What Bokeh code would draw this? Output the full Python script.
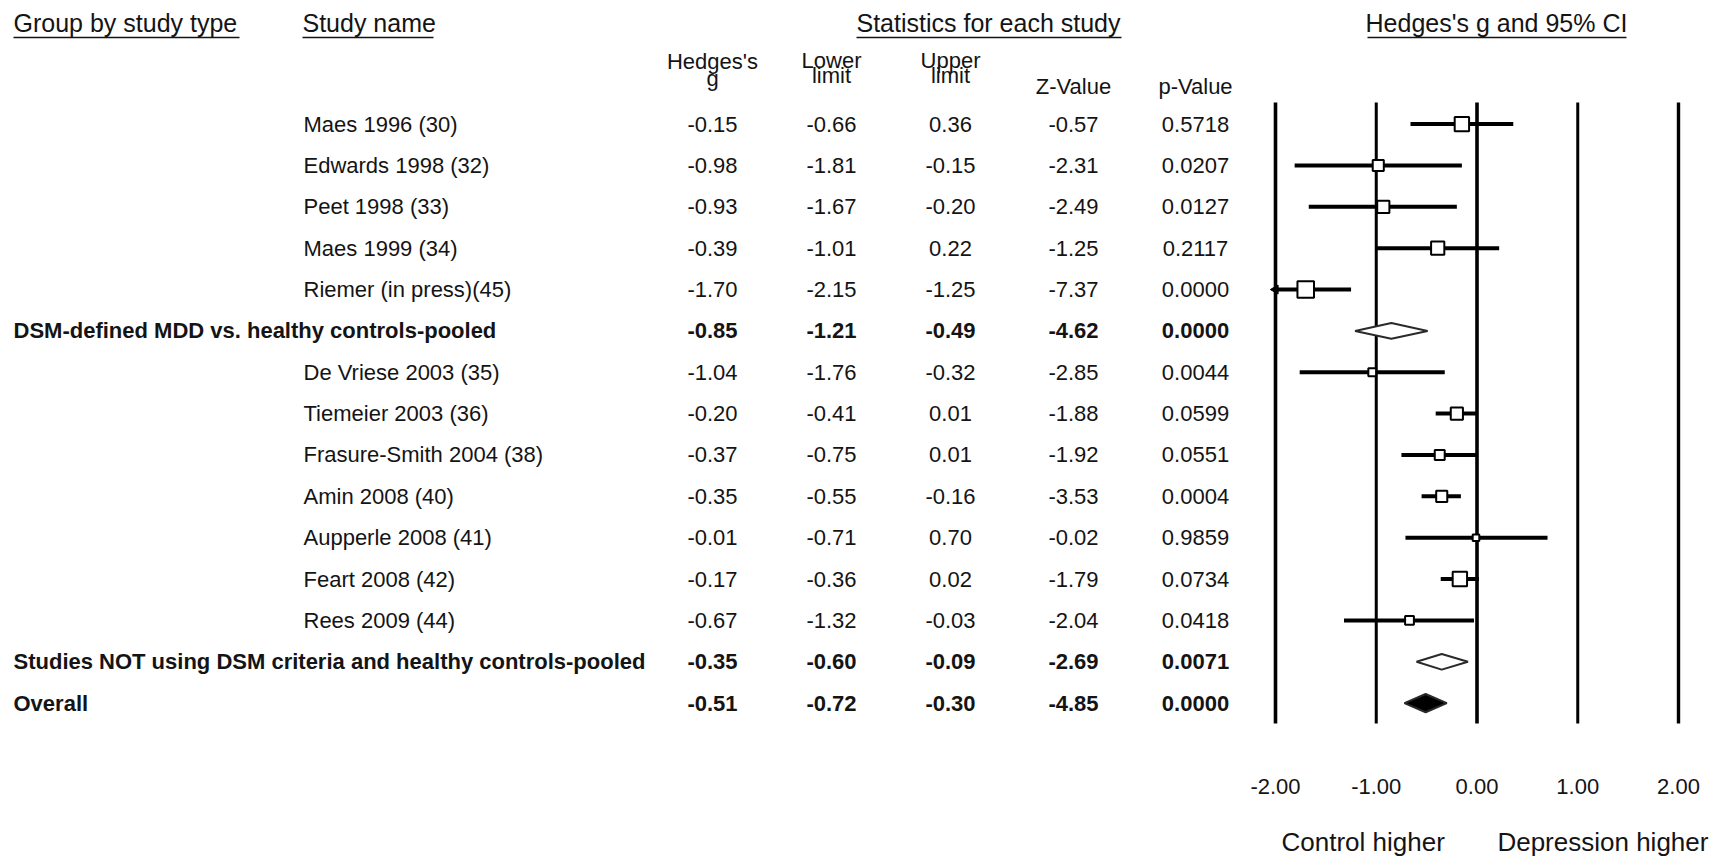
import math

from bokeh.core.properties import value
from bokeh.embed import file_html
from bokeh.models import (ColumnDataSource, CustomJSTickFormatter, FixedTicker,
                          LinearAxis, NumeralTickFormatter, Range1d)
from bokeh.plotting import figure
from bokeh.resources import INLINE

# ---------------------------------------------------------------- data
row_labels = [
    "Maes 1996 (30)",
    "Edwards 1998 (32)",
    "Peet 1998 (33)",
    "Maes 1999 (34)",
    "Riemer (in press)(45)",
    "DSM-defined MDD vs. healthy controls-pooled",
    "De Vriese 2003 (35)",
    "Tiemeier 2003 (36)",
    "Frasure-Smith 2004 (38)",
    "Amin 2008 (40)",
    "Aupperle 2008 (41)",
    "Feart 2008 (42)",
    "Rees 2009 (44)",
    "Studies NOT using DSM criteria and healthy controls-pooled",
    "Overall",
]
row_kind = ["study"] * 5 + ["pooled"] + ["study"] * 7 + ["pooled", "overall"]

hedges_g = [-0.15, -0.98, -0.93, -0.39, -1.70, -0.85,
            -1.04, -0.20, -0.37, -0.35, -0.01, -0.17, -0.67, -0.35, -0.51]
lower_limit = [-0.66, -1.81, -1.67, -1.01, -2.15, -1.21,
               -1.76, -0.41, -0.75, -0.55, -0.71, -0.36, -1.32, -0.60, -0.72]
upper_limit = [0.36, -0.15, -0.20, 0.22, -1.25, -0.49,
               -0.32, 0.01, 0.01, -0.16, 0.70, 0.02, -0.03, -0.09, -0.30]
z_value = [-0.57, -2.31, -2.49, -1.25, -7.37, -4.62,
           -2.85, -1.88, -1.92, -3.53, -0.02, -1.79, -2.04, -2.69, -4.85]
p_value = [0.5718, 0.0207, 0.0127, 0.2117, 0.0000, 0.0000,
           0.0044, 0.0599, 0.0551, 0.0004, 0.9859, 0.0734, 0.0418, 0.0071, 0.0000]

# relative study weights (%), one per individual study row
study_weight = [12.3, 7.3, 8.8, 10.4, 16.3,
                3.6, 8.8, 5.9, 7.3, 2.6, 12.3, 4.6]

effect_ticks = [-2, -1, 0, 1, 2]
side_labels = ["Control higher", "Depression higher"]

# ---------------------------------------------------------------- layout
W, H = 1730, 865
FRAME_BOTTOM = 740          # pixel row where the plotting frame ends
ROW0, ROW_H = 123.6, 41.36  # first table row and row pitch, in pixels
X_LEFT, X_RIGHT = 1275, 1678  # pixel positions of -2 and +2 on the effect axis
K = (X_RIGHT - X_LEFT) / (effect_ticks[-1] - effect_ticks[0])

FONT = "Liberation Sans"
INK = "#141414"


def yrow(py):
    """Convert a pixel row (from the top) to the row-index data space."""
    return (py - ROW0) / ROW_H


p = figure(
    width=W, height=H,
    x_range=Range1d(0, W),
    y_range=Range1d(yrow(FRAME_BOTTOM), yrow(0)),
    x_axis_type=None, y_axis_type=None,
    toolbar_location=None, output_backend="svg",
    min_border_left=0, min_border_right=0,
    min_border_top=0, min_border_bottom=H - FRAME_BOTTOM,
)
p.outline_line_color = None
p.background_fill_color = "white"
p.border_fill_color = "white"
p.extra_x_ranges = {
    "effect": Range1d(effect_ticks[0] - X_LEFT / K,
                      effect_ticks[-1] + (W - X_RIGHT) / K)
}

rows = list(range(len(row_labels)))
bold_rows = [i for i, k in enumerate(row_kind) if k != "study"]
study_rows = [i for i, k in enumerate(row_kind) if k == "study"]


# ---------------------------------------------------------------- headers
def header(text, x, py, align="left", size="25px"):
    p.text(x=[x], y=[yrow(py)], text=[text], text_align=align,
           text_baseline="middle", text_font=value(FONT),
           text_font_size=size, text_color=INK)


header("Group by study type", 13, 22)
header("Study name", 302, 22)
header("Statistics for each study", 988, 22, "center")
header("Hedges's g and 95% CI", 1496, 22, "center")

underlines = dict(x0=[13, 302, 856, 1367], x1=[239, 433, 1121, 1626])
p.segment(x0=underlines["x0"], x1=underlines["x1"],
          y0=[yrow(37)] * 4, y1=[yrow(37)] * 4,
          line_color=INK, line_width=1.6)

col_x = [712, 831, 950, 1073, 1195]
col_heads = [("Hedges's", "g"), ("Lower", "limit"), ("Upper", "limit"),
             ("Z-Value",), ("p-Value",)]
for cx, lines in zip(col_x, col_heads):
    if len(lines) == 2:
        first_y, second_y = (61, 78) if lines[1] == "g" else (60, 75)
        header(lines[0], cx, first_y, "center", "22px")
        header(lines[1], cx, second_y, "center", "22px")
    else:
        header(lines[0], cx, 86, "center", "22px")

# ---------------------------------------------------------------- table
weight_style = ["bold" if k != "study" else "normal" for k in row_kind]
label_src = ColumnDataSource(dict(
    x=[13 if k != "study" else 303 for k in row_kind],
    y=rows,
    text=row_labels,
    style=weight_style,
))
p.text(x="x", y="y", text="text", source=label_src, text_align="left",
       text_baseline="middle", text_font=value(FONT), text_font_size="22px",
       text_font_style="style", text_color=INK)

columns = [
    [f"{v:.2f}" for v in hedges_g],
    [f"{v:.2f}" for v in lower_limit],
    [f"{v:.2f}" for v in upper_limit],
    [f"{v:.2f}" for v in z_value],
    [f"{v:.4f}" for v in p_value],
]
for cx, texts in zip(col_x, columns):
    src = ColumnDataSource(dict(
        x=[cx] * len(rows), y=rows, text=texts, style=weight_style,
    ))
    p.text(x="x", y="y", text="text", source=src, text_align="center",
           text_baseline="middle", text_font=value(FONT),
           text_font_size="22px", text_font_style="style", text_color=INK)

# ---------------------------------------------------------------- forest plot
ref_widths = [3.6, 3.0, 3.6, 3.0, 3.4]
p.segment(x0=effect_ticks, x1=effect_ticks,
          y0=[yrow(102)] * len(effect_ticks), y1=[yrow(723)] * len(effect_ticks),
          line_color="black", line_width=ref_widths, x_range_name="effect")

lo_clip = [max(lower_limit[i], effect_ticks[0]) for i in study_rows]
hi_clip = [min(upper_limit[i], effect_ticks[-1]) for i in study_rows]
p.segment(x0=lo_clip, x1=hi_clip, y0=study_rows, y1=study_rows,
          line_color="black", line_width=4, x_range_name="effect")

# arrow tip where an interval runs past the left edge of the scale
clipped = [i for i in study_rows if lower_limit[i] < effect_ticks[0]]
p.scatter(x=[effect_ticks[0]] * len(clipped), y=clipped, marker="triangle",
          size=9, angle=math.pi / 2, fill_color="black", line_color="black",
          x_range_name="effect")

box_src = ColumnDataSource(dict(
    x=[hedges_g[i] for i in study_rows],
    y=study_rows,
    size=[4.1 * math.sqrt(w) for w in study_weight],
))
p.scatter(x="x", y="y", size="size", marker="square", source=box_src,
          fill_color="white", line_color="black", line_width=2,
          x_range_name="effect")

# summary diamonds
dia_xs, dia_ys, dia_fill = [], [], []
for i in bold_rows:
    h = 0.22 if row_kind[i] == "overall" else 0.19
    dia_xs.append([lower_limit[i], hedges_g[i], upper_limit[i], hedges_g[i]])
    dia_ys.append([i, i - h, i, i + h])
    dia_fill.append("black" if row_kind[i] == "overall" else "white")
p.patches(xs=dia_xs, ys=dia_ys, fill_color=dia_fill, line_color="#2a2a2a",
          line_width=2, x_range_name="effect")

# effect-size axis
axis = LinearAxis(
    x_range_name="effect",
    ticker=FixedTicker(ticks=effect_ticks),
    formatter=NumeralTickFormatter(format="0.00"),
    axis_line_color=None, major_tick_line_color=None,
    minor_tick_line_color=None, major_tick_in=0, major_tick_out=0,
    major_label_standoff=38,
    major_label_text_font=FONT, major_label_text_font_size="22px",
    major_label_text_color=INK,
)
p.add_layout(axis, "below")

# direction captions under the scale, one on each side of zero
side_axis = LinearAxis(
    x_range_name="effect",
    ticker=FixedTicker(ticks=[-1.13, 1.25]),
    formatter=CustomJSTickFormatter(
        args=dict(labels=side_labels),
        code="return tick < 0 ? labels[0] : labels[1];",
    ),
    axis_line_color=None, major_tick_line_color=None,
    minor_tick_line_color=None, major_tick_in=0, major_tick_out=0,
    major_label_standoff=30,
    major_label_text_font=FONT, major_label_text_font_size="26px",
    major_label_text_color=INK,
)
p.add_layout(side_axis, "below")

open("out.html", "w").write(file_html(p, INLINE))
